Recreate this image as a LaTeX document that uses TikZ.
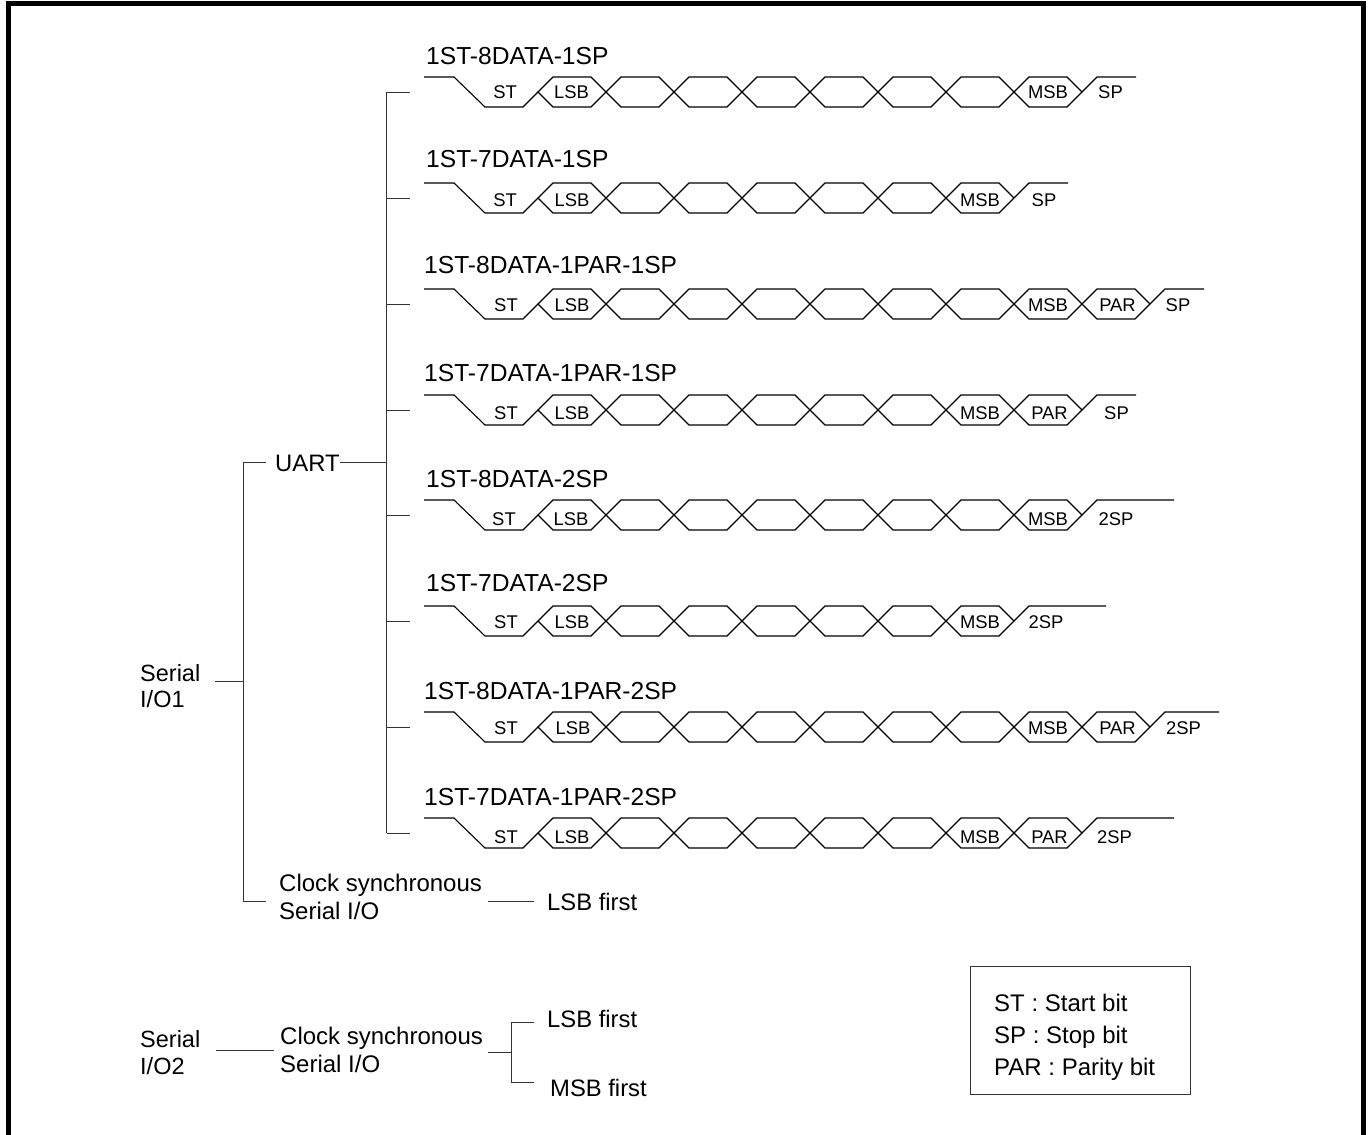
\documentclass[tikz,border=0pt]{standalone}
\usepackage{fontspec}
\setmainfont{Liberation Sans}
\usepackage{tikz}

\begin{document}
\begin{tikzpicture}[x=1pt,y=-1pt,
    link/.style={line width=1pt,black!80},
    wave/.style={line width=1.1pt},
    title/.style={anchor=base west,inner sep=0pt,font=\fontsize{24.6}{26}\selectfont},
    bit/.style={anchor=base,inner sep=0pt,font=\fontsize{18.4}{20}\selectfont},
    word/.style={anchor=base west,inner sep=0pt,font=\fontsize{#1}{26}\selectfont},
    word/.default=23.8,
    twoline/.style={anchor=west,align=left,inner sep=0pt,font=\fontsize{#1}{27.5}\selectfont}]
\useasboundingbox (0,0) rectangle (1371,1135);
\draw[line width=5.5pt] (8.3,1135) -- (8.3,3.3) -- (1363.5,3.3) -- (1363.5,1135);

% left part of the tree
\node[twoline=23.5] (serial1) at (140,686) {Serial\\[-1.5pt]I/O1};
\node[word] (uart) at (275,471.5) {UART};
\node[twoline=24] (clock1) at (279,897) {Clock synchronous\\Serial I/O};
\node[word] (first1) at (547,910) {LSB first};
\node[twoline=23.5] (serial2) at (140,1052.5) {Serial\\I/O2};
\node[twoline=24] (clock2) at (280,1050) {Clock synchronous\\Serial I/O};
\node[word] (first2) at (547,1027.5) {LSB first};
\node[word] (first3) at (550,1096.5) {MSB first};

\coordinate (j1) at (243,681);
\coordinate (b1) at (243,462);
\coordinate (b2) at (243,901);
\coordinate (u1) at (266,462);
\coordinate (c1) at (266,901);
\coordinate (bus) at (386.5,462);
\coordinate (e1) at (488,901.5);
\coordinate (e2) at (534,901.5);
\coordinate (s1) at (216,1050);
\coordinate (s2) at (273.5,1050);
\coordinate (j2) at (488,1052.5);
\coordinate (j3) at (511,1052.5);
\coordinate (j4) at (511,1022.5);
\coordinate (j5) at (511,1082.5);
\coordinate (j6) at (534,1022.5);
\coordinate (j7) at (534,1082.5);

\draw[link,shorten <=15pt] (serial1.east |- j1) -- (j1);
\draw[link] (u1) -- (b1) -- (b2) -- (c1);
\draw[link] (uart.east |- bus) -- (bus);
\draw[link] (e1) -- (e2);
\draw[link] (s1) -- (s2);
\draw[link] (j2) -- (j3);
\draw[link] (j6) -- (j4) -- (j5) -- (j7);

% frame formats
\foreach \n/\ttl/\ttlx/\ttly/\ytop/\ylab/\stx/\lsx/\ndata/\npar/\send/\slab/\slx in {
    1/1ST-8DATA-1SP/426/64/77/98.5/505/571.5/8/0/1136/SP/1110.5,
    2/1ST-7DATA-1SP/426/167/183/206/505/572/7/0/1068/SP/1044,
    3/1ST-8DATA-1PAR-1SP/424/273/289/311/506/572/8/1/1204/SP/1178,
    4/1ST-7DATA-1PAR-1SP/424/381.5/395/419/506/572/7/1/1136/SP/1116.5,
    5/1ST-8DATA-2SP/426/487/500/525.5/504/571/8/0/1174/2SP/1116,
    6/1ST-7DATA-2SP/426/591/606/628/506/572/7/0/1106/2SP/1046,
    7/1ST-8DATA-1PAR-2SP/424/699/712/734/506/573/8/1/1219/2SP/1183.5,
    8/1ST-7DATA-1PAR-2SP/424/805/818/843.5/506/572/7/1/1174/2SP/1114.5} {
  \pgfmathsetmacro\ybot{\ytop+30}
  \pgfmathsetmacro\ymid{\ytop+15}
  \pgfmathtruncatemacro\nb{\ndata+\npar}
  \pgfmathsetmacro\xend{538+68*\nb}
  \node[title] (title\n) at (\ttlx,\ttly) {\ttl};
  \coordinate (tree\n) at (386.5,\ymid);
  \coordinate (tick\n) at (410,\ymid);
  \draw[link] (tree\n) -- (tick\n);
  \draw[wave] (424,\ytop) -- (454,\ytop) -- (485,\ybot) -- (523,\ybot) -- (538,\ymid);
  \foreach \k [evaluate=\k as \c using {538+68*(\k-1)}] in {1,...,\nb} {
    \draw[wave] (\c,\ymid) -- (\c+15,\ytop) -- (\c+53,\ytop) -- (\c+68,\ymid)
      -- (\c+53,\ybot) -- (\c+15,\ybot) -- cycle;
  }
  \draw[wave] (\xend,\ymid) -- (\xend+15,\ytop) -- (\send,\ytop);
  \node[bit] (st\n) at (\stx,\ylab) {ST};
  \node[bit] (lsb\n) at (\lsx,\ylab) {LSB};
  \node[bit] (msb\n) at (538+68*\ndata-34,\ylab) {MSB};
  \ifnum\npar=1
    \node[bit] (par\n) at (538+68*\ndata+35.5,\ylab) {PAR};
  \fi
  \node[bit] (stop\n) at (\slx,\ylab) {\slab};
}
\draw[link] (tree1) -- (tree8);

% key
\node[draw=black!80,line width=1pt,minimum width=219.5pt,minimum height=128pt,
      inner sep=0pt,anchor=north west] (key) at (970.3,966) {};
\node[word=24] (key1) at (994,1011) {ST : Start bit};
\node[word=24] (key2) at (994,1043) {SP : Stop bit};
\node[word=24] (key3) at (994,1075) {PAR : Parity bit};
\end{tikzpicture}
\end{document}
